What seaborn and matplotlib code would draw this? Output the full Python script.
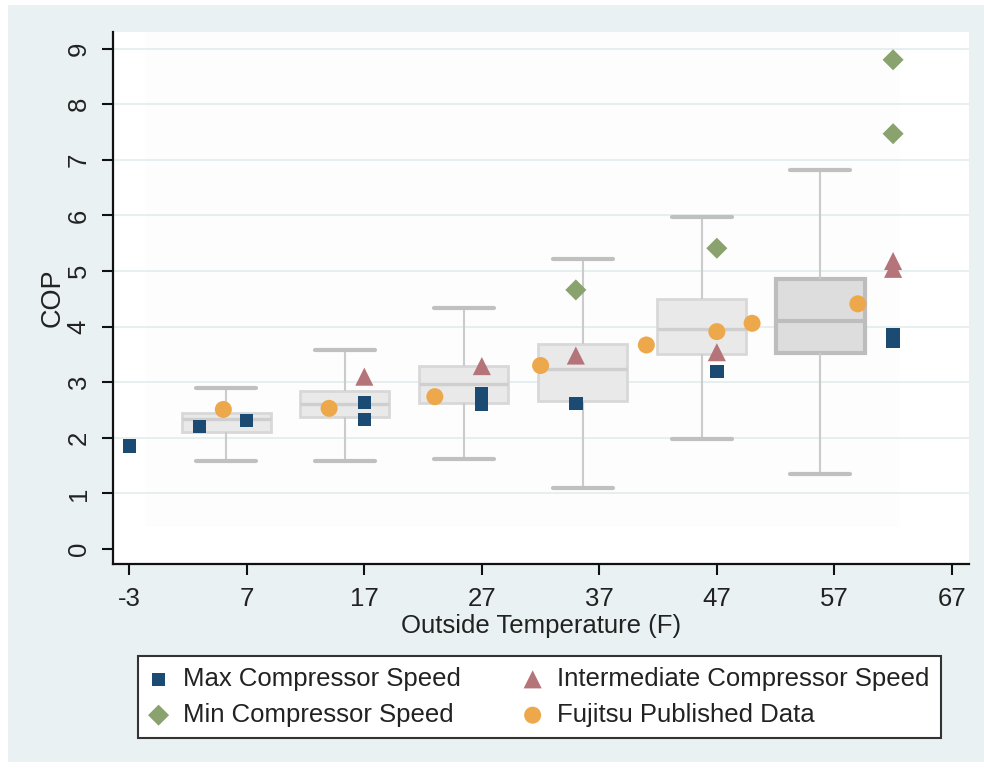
import numpy as np
import pandas as pd
import matplotlib
matplotlib.use("Agg")
import matplotlib.pyplot as plt
import seaborn as sns
from matplotlib.patches import Rectangle

# ---------------- data ----------------
# box summaries: lower whisker, Q1, median, Q3, upper whisker
box_pos = [5.25, 15.35, 25.45, 35.6, 45.7, 55.8]
box_low = [1.58, 1.58, 1.61, 1.09, 1.97, 1.34]
box_q1 = [2.11, 2.37, 2.62, 2.66, 3.50, 3.52]
box_med = [2.33, 2.61, 2.96, 3.24, 3.96, 4.10]
box_q3 = [2.45, 2.85, 3.30, 3.68, 4.49, 4.85]
box_high = [2.90, 3.58, 4.34, 5.22, 5.97, 6.82]

max_temp = [-3, 3, 7, 17, 17, 27, 27, 35, 47, 62, 62]
max_cop = [1.85, 2.20, 2.31, 2.64, 2.33, 2.79, 2.60, 2.62, 3.19, 3.85, 3.74]

int_temp = [17, 27, 35, 47, 62, 62]
int_cop = [3.10, 3.29, 3.48, 3.54, 5.18, 5.04]

min_temp = [35, 47, 62, 62]
min_cop = [4.66, 5.41, 8.80, 7.47]

fuj_temp = [5, 14, 23, 32, 41, 47, 50, 59]
fuj_cop = [2.51, 2.53, 2.74, 3.30, 3.67, 3.91, 4.06, 4.41]

x_ticks = [-3, 7, 17, 27, 37, 47, 57, 67]
y_ticks = [0, 1, 2, 3, 4, 5, 6, 7, 8, 9]

series_labels = ["Max Compressor Speed", "Intermediate Compressor Speed",
                 "Min Compressor Speed", "Fujitsu Published Data"]
x_label = "Outside Temperature (F)"
y_label = "COP"

# ---------------- style ----------------
sns.set_theme(style="white")
plt.rcParams["font.family"] = ["Liberation Sans", "DejaVu Sans"]

W, H, DPI = 984, 769, 100
FS = 18.5
fig = plt.figure(figsize=(W / DPI, H / DPI), dpi=DPI, facecolor="white")
fig.add_artist(Rectangle((8 / W, 1 - 762 / H), (W - 8) / W, (762 - 5) / H,
                         transform=fig.transFigure, facecolor="#EAF1F3",
                         edgecolor="none", zorder=-10))

ax = fig.add_axes([113 / W, 1 - 564 / H, (969 - 113) / W, (564 - 32) / H])
ax.set_facecolor("white")
ax.add_patch(Rectangle((0.037, 0.07), 0.882, 0.93, transform=ax.transAxes,
                       facecolor="#FDFDFD", edgecolor="none", zorder=0))

# ---------------- boxes ----------------
rows = []
for p, lo, q1, md, q3, hi in zip(box_pos, box_low, box_q1, box_med, box_q3, box_high):
    for v in (lo, q1, md, q3, hi):
        rows.append((p, v))
box_df = pd.DataFrame(rows, columns=["temp", "cop"])

sns.boxplot(data=box_df, x="temp", y="cop", native_scale=True, whis=(0, 100),
            width=0.75, color="#E9E9E9", saturation=1, linecolor="#D8D8D8",
            linewidth=2.0, showfliers=False, capwidths=5.1, ax=ax,
            medianprops=dict(color="#CFCFCF", linewidth=2.4),
            whiskerprops=dict(color="#CBCBCB", linewidth=1.5),
            capprops=dict(color="#C0C0C0", linewidth=3.0))

# darker last box
try:
    bp = ax.containers[0]
    bp.boxes[-1].set_facecolor("#DDDDDD")
    bp.boxes[-1].set_edgecolor("#BDBDBD")
    bp.boxes[-1].set_linewidth(3.0)
    bp.medians[-1].set_color("#BDBDBD")
    bp.medians[-1].set_linewidth(3.0)
except Exception:
    pass

# ---------------- points ----------------
navy, rose, green, orange = "#1B4A73", "#B5737A", "#8AA26E", "#EEA84C"
sns.scatterplot(x=max_temp, y=max_cop, marker="s", s=92, color=navy,
                edgecolor="none", linewidth=0, label=series_labels[0], ax=ax, zorder=4)
sns.scatterplot(x=int_temp, y=int_cop, marker="^", s=170, color=rose,
                edgecolor="none", linewidth=0, label=series_labels[1], ax=ax, zorder=4)
sns.scatterplot(x=min_temp, y=min_cop, marker="D", s=115, color=green,
                edgecolor="none", linewidth=0, label=series_labels[2], ax=ax, zorder=4)
sns.scatterplot(x=fuj_temp, y=fuj_cop, marker="o", s=150, color=orange,
                edgecolor="none", linewidth=0, label=series_labels[3], ax=ax, zorder=4)

# ---------------- axes ----------------
ax.set_xlim(-4.39, 68.46)
ax.set_ylim(-0.27, 9.30)
ax.set_xticks(x_ticks)
ax.set_xticklabels([str(t) for t in x_ticks])
ax.set_yticks(y_ticks)
ax.set_yticklabels([str(t) for t in y_ticks], rotation=90, va="center")
ax.set_axisbelow(True)
ax.yaxis.grid(True, color="#E3ECEE", linewidth=1.2)
ax.xaxis.grid(False)
ax.yaxis.get_gridlines()[0].set_visible(False)

for s in ("top", "right"):
    ax.spines[s].set_visible(False)
for s in ("left", "bottom"):
    ax.spines[s].set_color("#111111")
    ax.spines[s].set_linewidth(1.6)

ax.tick_params(axis="both", which="major", length=8, width=1.5, color="#111111",
               labelsize=FS, labelcolor="#222222", left=True, bottom=True)
ax.tick_params(axis="y", pad=8)
ax.tick_params(axis="x", pad=8.5)

ax.set_xlabel(x_label, fontsize=FS, color="#222222", labelpad=2)
ax.set_ylabel(y_label, fontsize=19.5, color="#222222", labelpad=1)

# ---------------- legend ----------------
h, l = ax.get_legend_handles_labels()
if ax.get_legend() is not None:
    ax.get_legend().remove()
order = [0, 2, 1, 3]
x0, x1, y0, y1 = 138, 941, 653, 741
leg = fig.legend([h[i] for i in order], [l[i] for i in order], ncol=2,
                 loc="center", mode="expand",
                 bbox_to_anchor=(x0 / W, 1 - y1 / H, (x1 - x0) / W, (y1 - y0) / H),
                 borderaxespad=0,
                 fontsize=FS, frameon=True, fancybox=False, framealpha=1,
                 facecolor="white", edgecolor="#333333",
                 handlelength=0.7, handletextpad=0.6, columnspacing=1.8,
                 labelspacing=0.46, borderpad=0.45, scatterpoints=1)
leg.get_frame().set_linewidth(1.5)
for t in leg.get_texts():
    t.set_color("#222222")

fig.savefig("out.png", dpi=DPI, facecolor=fig.get_facecolor())
